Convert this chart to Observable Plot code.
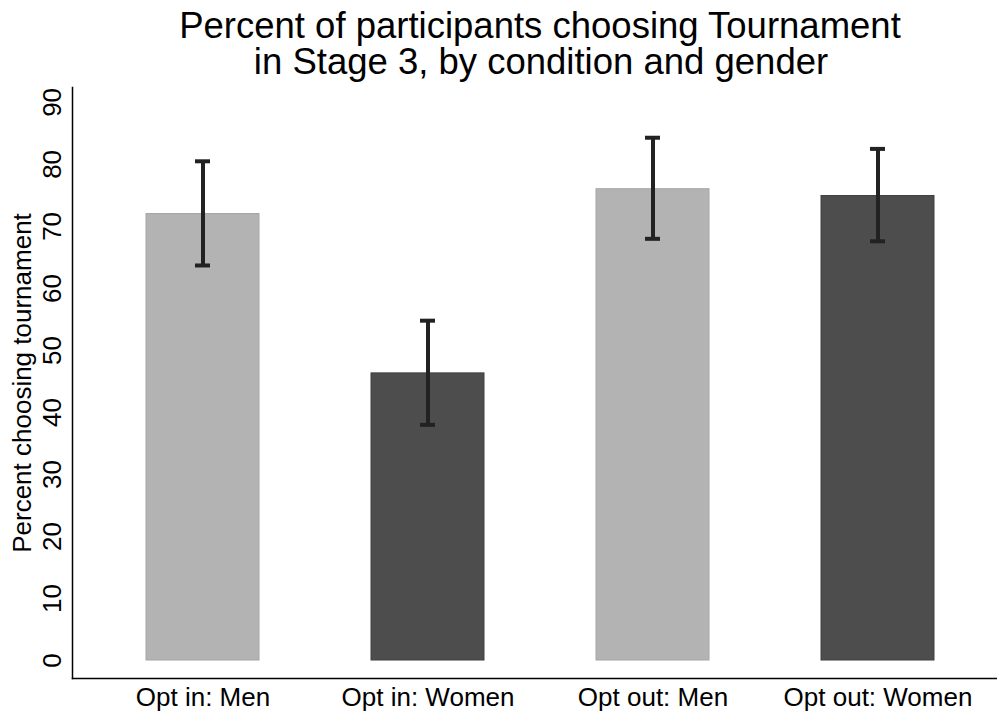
<!DOCTYPE html>
<html>
<head>
<meta charset="utf-8">
<script src="https://cdn.jsdelivr.net/npm/d3@7"></script>
<script src="https://cdn.jsdelivr.net/npm/@observablehq/plot@0.6"></script>
<style>
  html, body { margin: 0; padding: 0; background: #fff; }
  svg { font-family: "Liberation Sans", Arial, sans-serif; }
</style>
</head>
<body>
<div id="chart"></div>
<script>
// Share of participants choosing the tournament in Stage 3
const categories = ["Opt in: Men", "Opt in: Women", "Opt out: Men", "Opt out: Women"];
const gender = ["Men", "Women", "Men", "Women"];
const percent = [72.0, 46.3, 76.0, 74.9];
const ciLow = [63.7, 38.0, 68.0, 67.6];
const ciHigh = [80.5, 54.8, 84.3, 82.5];
const yTicks = [0, 10, 20, 30, 40, 50, 60, 70, 80, 90];

const titleLines = ["Percent of participants choosing Tournament", "in Stage 3, by condition and gender"];
const yLabel = "Percent choosing tournament";

const rows = categories.map((c, i) => ({
  category: c,
  gender: gender[i],
  percent: percent[i],
  lo: ciLow[i],
  hi: ciHigh[i]
}));

const chart = Plot.plot({
  width: 997,
  height: 715,
  marginLeft: 72,
  marginRight: 0,
  marginTop: 87,
  marginBottom: 37,
  style: { fontFamily: '"Liberation Sans", Arial, sans-serif', background: "#fff", color: "#000" },
  x: { domain: categories, paddingInner: 0.5, paddingOuter: 0.3, align: 0.54, label: null },
  y: { domain: [-2.9, 92.4], label: null },
  color: { domain: ["Men", "Women"], range: ["#b3b3b3", "#4d4d4d"] },
  marks: [
    Plot.barY(rows, {
      x: "category",
      y: "percent",
      fill: "gender",
      stroke: (d) => d.gender === "Men" ? "#a6a6a6" : "#404040",
      strokeWidth: 1
    }),
    Plot.ruleX(rows, { x: "category", y1: "lo", y2: "hi", stroke: "#222", strokeWidth: 4 }),
    Plot.tickY(rows, { x: "category", y: "lo", stroke: "#222", strokeWidth: 4, insetLeft: 49, insetRight: 49 }),
    Plot.tickY(rows, { x: "category", y: "hi", stroke: "#222", strokeWidth: 4, insetLeft: 49, insetRight: 49 }),
    Plot.frame({ anchor: "left", stroke: "#000", strokeWidth: 1.5 }),
    Plot.frame({ anchor: "bottom", stroke: "#000", strokeWidth: 1.5 }),
    Plot.axisY({
      ticks: yTicks,
      tickSize: 0,
      tickPadding: 12,
      tickRotate: -90,
      fontSize: 26,
      label: null
    }),
    Plot.axisX({
      tickSize: 0,
      tickPadding: 9,
      fontSize: 26,
      label: null
    }),
    Plot.text([yLabel], {
      frameAnchor: "left",
      rotate: -90,
      textAnchor: "middle",
      dx: -50,
      fontSize: 26,
      fill: "#000"
    }),
    // two-line title, one text per line
    Plot.text([titleLines[0]], {
      frameAnchor: "top",
      lineAnchor: "top",
      dx: 5,
      dy: -75,
      fontSize: 36.5,
      fill: "#000"
    }),
    Plot.text([titleLines[1]], {
      frameAnchor: "top",
      lineAnchor: "top",
      dx: 6,
      dy: -39,
      fontSize: 36.5,
      fill: "#000"
    })
  ]
});

document.getElementById("chart").append(chart);
</script>
</body>
</html>
